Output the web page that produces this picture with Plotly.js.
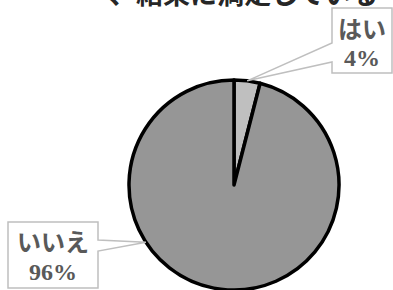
<!DOCTYPE html>
<html>
<head>
<meta charset="utf-8">
<script src="https://cdn.plot.ly/plotly-3.0.1.min.js"></script>
<style>html,body{margin:0;padding:0;background:#fff;}#chart{width:393px;height:290px;}</style>
</head>
<body>
<div id="chart"></div>
<script>
// ---- data ----
const categories = ['はい', 'いいえ'];
const values = [4, 96];
const percentLabels = ['4%', '96%'];
const sliceColors = ['#bfbfbf', '#969696'];
const titleText = '、結果に満足している';

// ---- layout helpers (pixels -> paper) ----
const W = 393, H = 290;
const px = x => x / W;
const py = y => 1 - y / H;

// pie geometry in pixels
const cx = 234, cy = 185, R = 105;
const domX = [px(cx - R), px(cx + R)];
const domY = [0, py(cy - R)];

// mid-angle of the first slice (clockwise from 12 o'clock) from data
const total = values.reduce((a, b) => a + b, 0);
const midYes = (values[0] / 2) / total * 2 * Math.PI;
const tipYes = [cx + R * Math.sin(midYes), cy - R * Math.cos(midYes)];
const noAngle = 237 * Math.PI / 180;
const tipNo = [cx + R * Math.sin(noAngle), cy - R * Math.cos(noAngle)];

function pathFrom(pts) {
  return 'M ' + pts.map(p => px(p[0]) + ',' + py(p[1])).join(' L ') + ' Z';
}

const yesBox = pathFrom([[332, 8], [392, 8], [392, 73], [332, 73], [332, 62], tipYes, [332, 43]]);
const noBox = pathFrom([[8, 222], [98, 222], [98, 240], tipNo, [98, 251], [98, 288], [8, 288]]);

const labelFont = {family: '"Liberation Serif", "Noto Sans CJK JP", serif', size: 24, color: '#595959', weight: 'bold'};

function lbl(text, x, y) {
  return {xref: 'paper', yref: 'paper', x: px(x), y: py(y), xanchor: 'center', yanchor: 'middle',
          text: text, showarrow: false, font: labelFont};
}

const trace = {
  type: 'pie',
  labels: categories,
  values: values,
  sort: false,
  direction: 'clockwise',
  rotation: 0,
  textinfo: 'none',
  hoverinfo: 'skip',
  marker: {colors: sliceColors, line: {color: '#000000', width: 3.5}},
  domain: {x: domX, y: domY},
  showlegend: false
};

const layout = {
  width: W, height: H,
  margin: {l: 0, r: 0, t: 0, b: 0},
  paper_bgcolor: '#ffffff',
  showlegend: false,
  shapes: [
    {type: 'path', xref: 'paper', yref: 'paper', path: yesBox, line: {color: '#bfbfbf', width: 1.5}, fillcolor: 'rgba(255,255,255,1)', layer: 'above'},
    {type: 'path', xref: 'paper', yref: 'paper', path: noBox, line: {color: '#bfbfbf', width: 1.5}, fillcolor: 'rgba(255,255,255,1)', layer: 'above'}
  ],
  annotations: [
    {xref: 'paper', yref: 'paper', x: px(243), y: py(14), xanchor: 'center', yanchor: 'bottom',
     text: titleText, showarrow: false,
     font: {family: '"Noto Sans CJK JP", sans-serif', size: 27, color: '#262626', weight: 'bold'}},
    lbl(categories[0], 362, 30),
    lbl(percentLabels[0], 362, 58),
    lbl(categories[1], 53, 243),
    lbl(percentLabels[1], 53, 272)
  ]
};

Plotly.newPlot('chart', [trace], layout, {staticPlot: true, displayModeBar: false});
</script>
</body>
</html>
